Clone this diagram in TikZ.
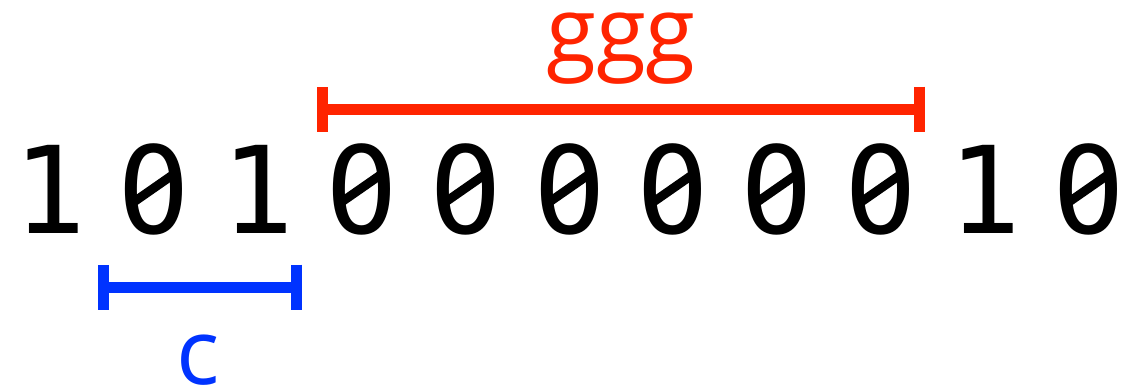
\documentclass[tikz,border=0pt]{standalone}
\usepackage{fontspec}
\newfontfamily\bitfont{DejaVu Sans Mono}
\newfontfamily\labelfont{Open Sans}
\usetikzlibrary{arrows.meta}

\definecolor{spanred}{RGB}{255,36,0}
\definecolor{spanblue}{RGB}{0,51,255}

\begin{document}
\begin{tikzpicture}[x=1pt,y=-1pt,
  bit/.style={inner sep=0pt,font=\bitfont\fontsize{121}{121}\selectfont},
  span/.style={line width=11pt,{Bar[width=45pt]}-{Bar[width=45pt]}},
  spanlabel/.style={inner sep=0pt,font=\labelfont\fontsize{91}{91}\selectfont}]
\useasboundingbox (0,0) rectangle (1145,386);

% the bit string
\foreach \d [count=\i from 0] in {1,0,1,0,0,0,0,0,0,1,0}
  \node[bit] (b\i) at ({50+103.9*\i},189) {\d};

% slashed zeros: blank out the dot, put a stroke across
\foreach \i in {1,3,4,5,6,7,8,10} {
  \fill[white] (b\i.center) ellipse (13 and 22);
  \draw[line width=9pt] ([shift={(-23,15)}]b\i.center) -- ([shift={(23,-17)}]b\i.center);
}

% long span over the zeros
\coordinate (g0) at (317,109);
\coordinate (g1) at (925,109);
\draw[span,spanred] (g0) -- (g1);
\node[spanlabel,text=spanred] (glabel) at (621,49) {ggg};

% short span under the start
\coordinate (c0) at (98,287);
\coordinate (c1) at (302,287);
\draw[span,spanblue] (c0) -- (c1);
\node[spanlabel,text=spanblue] (clabel) at (198.5,360) {c};
\end{tikzpicture}
\end{document}
